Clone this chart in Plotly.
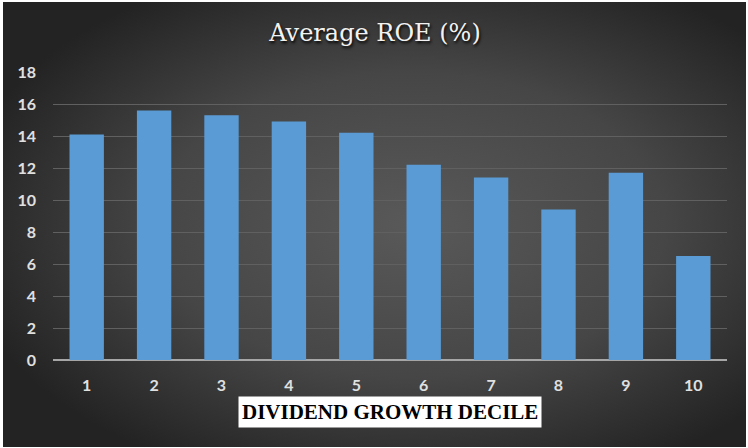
import base64
import plotly.graph_objects as go

deciles = ["1", "2", "3", "4", "5", "6", "7", "8", "9", "10"]
avg_roe = [14.1, 15.6, 15.3, 14.9, 14.2, 12.2, 11.4, 9.4, 11.7, 6.5]
y_ticks = [0, 2, 4, 6, 8, 10, 12, 14, 16, 18]

# dark radial background like the Excel chart style
bg_svg = """<svg xmlns='http://www.w3.org/2000/svg' width='743' height='445' viewBox='0 0 743 445'>
<defs><radialGradient id='g' cx='0.55' cy='0.5' r='0.62'>
<stop offset='0' stop-color='#595959'/><stop offset='0.55' stop-color='#464646'/>
<stop offset='1' stop-color='#232323'/></radialGradient></defs>
<rect width='743' height='445' fill='url(#g)'/></svg>"""
bg_uri = "data:image/svg+xml;base64," + base64.b64encode(bg_svg.encode()).decode()

fig = go.Figure()
fig.add_trace(go.Bar(
    x=deciles, y=avg_roe,
    marker=dict(color="#5b9bd5", line=dict(width=0)),
    width=0.51,
))

fig.update_layout(
    width=748, height=448,
    paper_bgcolor="white",
    plot_bgcolor="rgba(0,0,0,0)",
    margin=dict(l=53, r=21, t=72, b=88, autoexpand=False),
    showlegend=False,
    images=[dict(source=bg_uri, xref="paper", yref="paper",
                 x=-50 / 674, y=1 + 70 / 288, sizex=743 / 674, sizey=445 / 288,
                 xanchor="left", yanchor="top", sizing="stretch", layer="below")],
    title=dict(
        text="Average ROE (%)", x=(375 - 53) / 674, xref="paper", xanchor="center",
        y=1 - 33 / 448, yanchor="middle",
        font=dict(family="DejaVu Serif", size=24, color="#f2f2f2",
                  shadow="1px 2px 3px #000000"),
    ),
    annotations=[dict(
        text="<b>DIVIDEND GROWTH DECILE</b>", xref="paper", yref="paper",
        x=(390 - 53) / 674, y=-(412 - 360) / 288, xanchor="center", yanchor="middle",
        showarrow=False, bgcolor="white", borderpad=3,
        font=dict(family="Liberation Serif", size=21, color="black"),
    )],
)

fig.update_xaxes(
    automargin=False,
    showgrid=False, showline=False, zeroline=False,
    tickfont=dict(family="Lato", size=16, color="#e0e0e0", weight="bold"),
    ticklabelstandoff=14,
)
fig.update_yaxes(
    automargin=False,
    range=[0, 18], tickvals=y_ticks,
    showgrid=True, gridcolor="#606060", gridwidth=1,
    zeroline=True, zerolinecolor="#a6a6a6", zerolinewidth=2,
    tickfont=dict(family="Lato", size=16, color="#e0e0e0", weight="bold"),
    ticklabelstandoff=16,
)

# drop the browser's default body margin so the figure fills the window
fig.write_html("out.html", config={"displayModeBar": False},
               post_script="document.body.style.margin='0';")
